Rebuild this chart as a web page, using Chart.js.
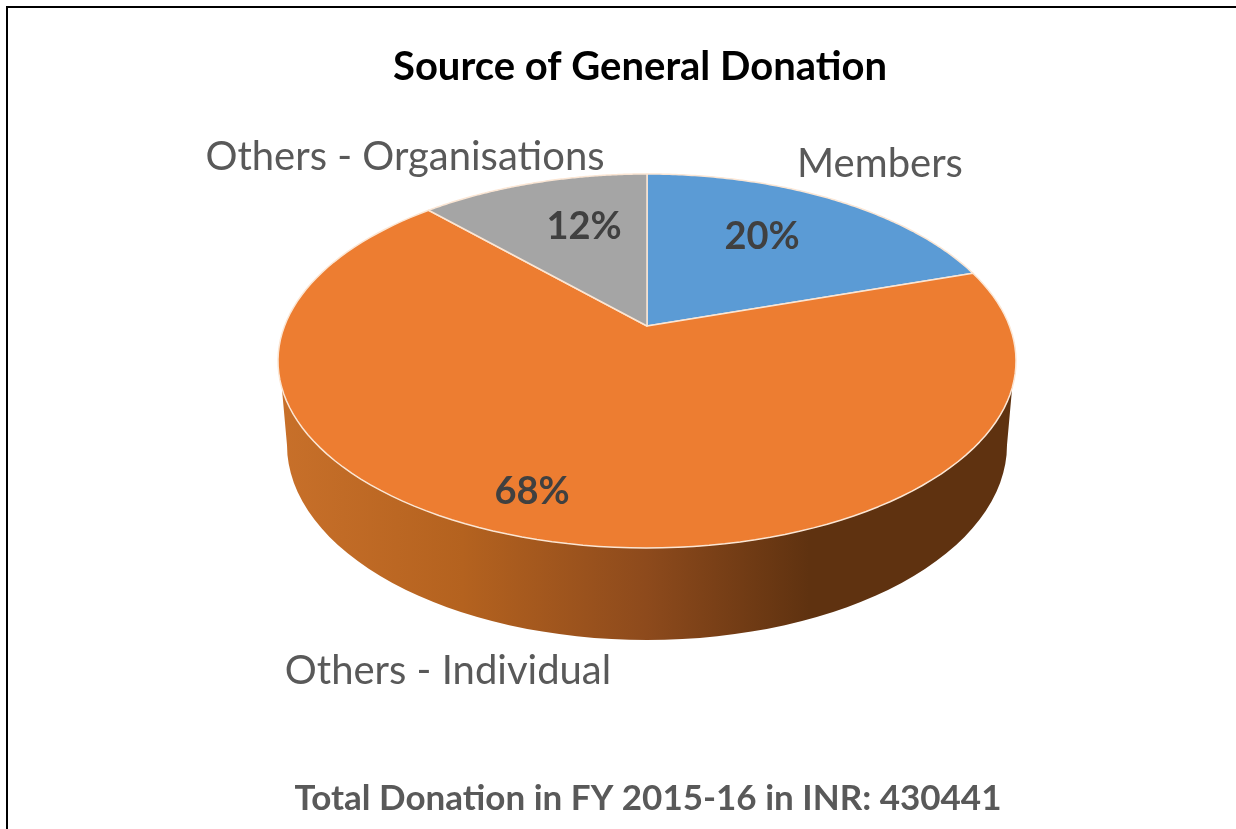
<!DOCTYPE html>
<html>
<head>
<meta charset="utf-8">
<title>Source of General Donation</title>
<script src="https://cdn.jsdelivr.net/npm/chart.js@4"></script>
<style>
    html, body { margin: 0; background: #fff; }
    #marco { position: absolute; left: 6px; top: 6px; width: 1230px; height: 823px; box-sizing: border-box; border-left: 2px solid #000; border-top: 2px solid #000; }
    #grafico { position: absolute; left: 0; top: 0; }
</style>
</head>
<body>
<div id="marco"></div>
<canvas id="grafico" width="1236" height="829"></canvas>
<script>
const categorias = ['Members', 'Others - Individual', 'Others - Organisations'];
const valores = [20, 68, 12];
const colores = ['#5b9bd5', '#ed7d31', '#a5a5a5'];
const titulo = 'Source of General Donation';
const nota = 'Total Donation in FY 2015-16 in INR: 430441';

// the picture is a tilted pie, so the disc gets stretched and its centre pushed up
const estiramiento = 369 / 187;
const inclinacion = 0.187;
const profundidad = { cy: 445, rx: 360, ry: 195 };
const fuente = 'Lato, Carlito, sans-serif';

// text anchors: x centre, y baseline
const etiquetas = [
    { x: 880, y: 177 },
    { x: 448, y: 684 },
    { x: 405, y: 170 }
];
const porcentajes = [
    { x: 762, y: 249 },
    { x: 532, y: 504 },
    { x: 584, y: 239 }
];

function proyectar(arc, angulo) {
    const u = Math.cos(angulo);
    const v = -Math.sin(angulo);
    const t = inclinacion;
    const d = 1 + t * v;
    return {
        x: arc.x + arc.outerRadius * estiramiento * u * Math.sqrt(1 - t * t) / d,
        y: arc.y - arc.outerRadius * (v + t) / d
    };
}

function dibujarCanto(ctx, arc) {
    const rx = arc.outerRadius * estiramiento;
    const grad = ctx.createLinearGradient(arc.x - rx, 0, arc.x + rx, 0);
    grad.addColorStop(0, '#c8702a');
    grad.addColorStop(0.25, '#b4621f');
    grad.addColorStop(0.5, '#8d4a1c');
    grad.addColorStop(0.72, '#5f3210');
    grad.addColorStop(1, '#5f3210');
    const a = Math.asin(27 / arc.outerRadius);
    ctx.beginPath();
    ctx.ellipse(arc.x, arc.y, rx, arc.outerRadius, 0, a, Math.PI - a);
    ctx.ellipse(arc.x, profundidad.cy, profundidad.rx, profundidad.ry, 0, Math.PI, 0, true);
    ctx.closePath();
    ctx.fillStyle = grad;
    ctx.fill();
}

function dibujarPorcion(ctx, arc, color) {
    const vertice = proyectar(arc, -Math.PI / 2 + Math.PI / 2 + Math.PI / 2);
    const pasos = 120;
    ctx.beginPath();
    ctx.moveTo(arc.x, arc.y - arc.outerRadius * inclinacion);
    for (let i = 0; i <= pasos; i++) {
        const p = proyectar(arc, arc.startAngle + (arc.endAngle - arc.startAngle) * i / pasos);
        ctx.lineTo(p.x, p.y);
    }
    ctx.closePath();
    ctx.fillStyle = color;
    ctx.fill();
    ctx.lineWidth = 1.5;
    ctx.strokeStyle = '#fbe6d4';
    ctx.lineJoin = 'round';
    ctx.stroke();
}

const pastelInclinado = {
    id: 'pastelInclinado',
    // cancels the flat arcs and paints the same arc elements in perspective
    beforeDatasetDraw(chart) {
        const ctx = chart.ctx;
        const arcos = chart.getDatasetMeta(0).data;
        ctx.save();
        dibujarCanto(ctx, arcos[0]);
        arcos.forEach((arc, i) => dibujarPorcion(ctx, arc, colores[i]));
        ctx.restore();
        return false;
    },
    afterDraw(chart) {
        const ctx = chart.ctx;
        ctx.save();
        ctx.textAlign = 'center';
        ctx.textBaseline = 'alphabetic';
        ctx.fillStyle = '#000';
        ctx.font = `bold 40px ${fuente}`;
        ctx.fillText(titulo, 640, 80);
        ctx.fillStyle = '#595959';
        ctx.font = `40px ${fuente}`;
        categorias.forEach((c, i) => ctx.fillText(c, etiquetas[i].x, etiquetas[i].y));
        ctx.fillStyle = '#404040';
        ctx.font = `bold 38px ${fuente}`;
        valores.forEach((v, i) => ctx.fillText(v + '%', porcentajes[i].x, porcentajes[i].y));
        ctx.fillStyle = '#595959';
        ctx.font = `bold 35px ${fuente}`;
        ctx.fillText(nota, 648, 810);
        ctx.restore();
    }
};

new Chart(document.getElementById('grafico'), {
    type: 'pie',
    data: {
        labels: categorias,
        datasets: [{ data: valores, backgroundColor: colores, borderWidth: 0 }]
    },
    options: {
        responsive: false,
        animation: false,
        layout: { padding: { top: 174, bottom: 281, left: 278, right: 220 } },
        plugins: { legend: { display: false }, tooltip: { enabled: false } }
    },
    plugins: [pastelInclinado]
});
</script>
</body>
</html>
